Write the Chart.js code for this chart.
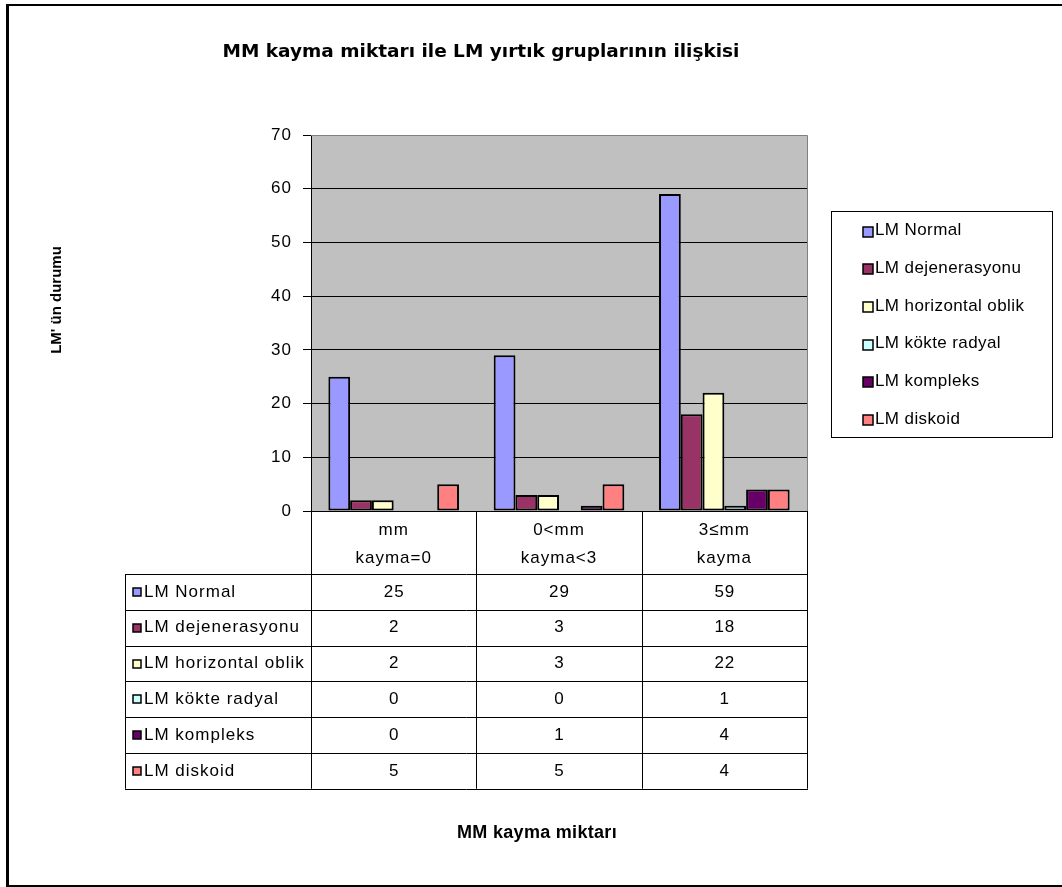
<!DOCTYPE html>
<html>
<head>
<meta charset="utf-8">
<script src="https://cdn.jsdelivr.net/npm/chart.js@4.4.1/dist/chart.umd.min.js"></script>
<style>
  html, body { margin: 0; padding: 0; background: #fff; }
  #wrap { width: 1062px; height: 887px; position: relative; }
  canvas { display: block; }
</style>
</head>
<body>
<div id="wrap"><canvas id="c" width="1062" height="887"></canvas></div>
<script>
// Texts
const chartTitle = 'MM kayma miktarı ile LM yırtık gruplarının ilişkisi';
const yAxisTitle = "LM' ün durumu";
const xAxisTitle = 'MM kayma miktarı';

// Categories (multi-line tick labels)
const categories = [['mm', 'kayma=0'], ['0<mm', 'kayma<3'], ['3≤mm', 'kayma']];

// Series
const seriesNames = ['LM Normal', 'LM dejenerasyonu', 'LM horizontal oblik', 'LM kökte radyal', 'LM kompleks', 'LM diskoid'];
const lmNormal = [25, 29, 59];
const lmDejenerasyonu = [2, 3, 18];
const lmHorizontalOblik = [2, 3, 22];
const lmKokteRadyal = [0, 0, 1];
const lmKompleks = [0, 1, 4];
const lmDiskoid = [5, 5, 4];
const seriesValues = [lmNormal, lmDejenerasyonu, lmHorizontalOblik, lmKokteRadyal, lmKompleks, lmDiskoid];
const seriesColors = ['#9999FF', '#993366', '#FFFFCC', '#CCFFFF', '#660066', '#FF8080'];

// Value axis ticks
const yTicks = [0, 10, 20, 30, 40, 50, 60, 70];

const FONT = "'Liberation Sans', Arial, sans-serif";

// Page furniture: plot background, data table, legend, axis titles, outer frame
const sheetPlugin = {
  id: 'sheet',
  beforeDraw(chart) {
    const { ctx, chartArea: a } = chart;
    ctx.save();
    ctx.fillStyle = '#ffffff';
    ctx.fillRect(0, 0, chart.width, chart.height);
    ctx.fillStyle = '#C0C0C0';
    ctx.fillRect(a.left, a.top, a.right - a.left, a.bottom - a.top);
    ctx.restore();
    // axis labels are drawn slightly spaced; the title keeps normal spacing
    ctx.letterSpacing = '1px';
    const tb = chart.titleBlock;
    if (tb && !tb._plainSpacing) {
      const drawTitle = tb.draw.bind(tb);
      tb.draw = function (area) {
        const prev = chart.ctx.letterSpacing;
        chart.ctx.letterSpacing = '0px';
        drawTitle(area);
        chart.ctx.letterSpacing = prev;
      };
      tb._plainSpacing = true;
    }
  },
  afterDraw(chart) {
    const { ctx, chartArea: a } = chart;
    const xs = chart.scales.x;
    const crisp = v => Math.round(v) + 0.5;
    ctx.save();

    // plot area border (top and right)
    ctx.strokeStyle = '#808080';
    ctx.lineWidth = 1;
    ctx.beginPath();
    ctx.moveTo(a.left, crisp(a.top));
    ctx.lineTo(crisp(a.right), crisp(a.top));
    ctx.lineTo(crisp(a.right), a.bottom);
    ctx.stroke();

    // data table
    const n = categories.length;
    const colW = (a.right - a.left) / n;
    const tableLeft = 125;
    const headTop = a.bottom;
    const headBottom = xs.bottom;
    const rowH = 35.8;
    const tableBottom = headBottom + rowH * seriesNames.length;

    ctx.strokeStyle = '#000';
    ctx.lineWidth = 1;
    ctx.beginPath();
    for (let r = 0; r <= seriesNames.length; r++) {
      const y = crisp(headBottom + r * rowH);
      ctx.moveTo(tableLeft, y);
      ctx.lineTo(a.right + 1, y);
    }
    ctx.moveTo(crisp(tableLeft), headBottom);
    ctx.lineTo(crisp(tableLeft), tableBottom);
    for (let c = 0; c <= n; c++) {
      const x = crisp(a.left + c * colW);
      ctx.moveTo(x, headTop);
      ctx.lineTo(x, tableBottom);
    }
    ctx.stroke();

    ctx.font = '17px ' + FONT;
    ctx.letterSpacing = '1px';
    ctx.textBaseline = 'middle';
    ctx.fillStyle = '#000';
    seriesNames.forEach((name, r) => {
      const cy = headBottom + r * rowH + rowH / 2;
      ctx.fillStyle = seriesColors[r];
      ctx.fillRect(133, Math.round(cy) - 4, 8, 8);
      ctx.strokeStyle = '#000';
      ctx.lineWidth = 1.5;
      ctx.strokeRect(133, Math.round(cy) - 4, 8, 8);
      ctx.fillStyle = '#000';
      ctx.textAlign = 'left';
      ctx.fillText(name, 144, cy);
      ctx.textAlign = 'center';
      seriesValues[r].forEach((v, c) => {
        ctx.fillText(String(v), xs.getPixelForValue(c) + 0.5, cy);
      });
    });

    // legend
    const lx = 831, ly = 211, lw = 221, lh = 226;
    ctx.strokeStyle = '#000';
    ctx.lineWidth = 1;
    ctx.strokeRect(lx + 0.5, ly + 0.5, lw, lh);
    ctx.font = '17px ' + FONT;
    ctx.letterSpacing = '0.4px';
    ctx.textAlign = 'left';
    chart.data.datasets.forEach((ds, i) => {
      const cy = 230.5 + i * 37.7;
      ctx.fillStyle = ds.backgroundColor;
      ctx.fillRect(863, Math.round(cy) - 4, 10, 10);
      ctx.strokeStyle = '#000';
      ctx.lineWidth = 1.5;
      ctx.strokeRect(863, Math.round(cy) - 4, 10, 10);
      ctx.fillStyle = '#000';
      ctx.fillText(ds.label, 875, cy);
    });

    // axis titles
    ctx.letterSpacing = '0px';
    ctx.fillStyle = '#000';
    ctx.textAlign = 'center';
    ctx.font = 'bold 15px ' + FONT;
    ctx.save();
    ctx.translate(57, 300);
    ctx.rotate(-Math.PI / 2);
    ctx.fillText(yAxisTitle, 0, 0);
    ctx.restore();
    ctx.font = 'bold 18px ' + FONT;
    ctx.letterSpacing = '0.3px';
    ctx.fillText(xAxisTitle, 537, 833);

    // outer frame
    ctx.fillStyle = '#000';
    ctx.fillRect(6, 4, chart.width - 6, 2);
    ctx.fillRect(6, 4, 3, 883);
    ctx.fillRect(6, 885, chart.width - 6, 2);

    ctx.restore();
  }
};

const datasets = seriesNames.map((name, i) => ({
  label: name,
  data: seriesValues[i],
  backgroundColor: seriesColors[i],
  borderColor: '#000',
  borderWidth: 2,
  borderSkipped: false
}));

new Chart(document.getElementById('c'), {
  type: 'bar',
  data: { labels: categories, datasets },
  options: {
    responsive: false,
    animation: false,
    devicePixelRatio: 1,
    layout: { padding: { left: 155, right: 255, top: 0, bottom: 313 } },
    datasets: { bar: { categoryPercentage: 0.79, barPercentage: 1 } },
    plugins: {
      legend: { display: false },
      tooltip: { enabled: false },
      title: {
        display: true,
        text: chartTitle,
        color: '#000',
        font: { family: "'DejaVu Sans', sans-serif", size: 18.5, weight: 'bold', lineHeight: 1.2 },
        padding: { top: 40.9, bottom: 71.9 }
      }
    },
    scales: {
      x: {
        grid: { display: false, drawTicks: false },
        border: { display: true, color: '#000', width: 1 },
        ticks: {
          color: '#000',
          font: { family: FONT, size: 17, lineHeight: 28 / 17 },
          padding: 5,
          maxRotation: 0,
          autoSkip: false
        },
        afterFit(s) { s.height = 63; }
      },
      y: {
        min: 0,
        max: 70,
        afterBuildTicks(s) { s.ticks = yTicks.map(v => ({ value: v })); },
        grid: {
          color: c => (c.tick && c.tick.value === 70 ? '#808080' : '#000'),
          tickColor: '#000',
          tickLength: 8,
          lineWidth: 1
        },
        border: { color: '#000', width: 1 },
        ticks: {
          color: '#000',
          font: { family: FONT, size: 17 },
          padding: 11
        },
        afterFit(s) { s.width = 156; }
      }
    }
  },
  plugins: [sheetPlugin]
});
</script>
</body>
</html>
